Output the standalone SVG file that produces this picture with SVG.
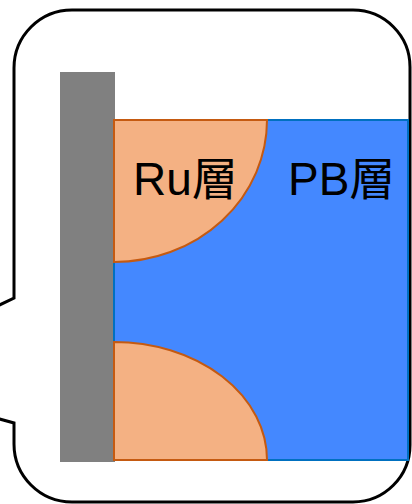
<svg xmlns="http://www.w3.org/2000/svg" width="412" height="504" viewBox="0 0 412 504">
<style>
.callout{fill:#fff;stroke:#000;stroke-width:3}
.ru{fill:#F4B183;stroke:#C55A11;stroke-width:2}
.lbl{font-family:"Liberation Sans","Noto Sans CJK JP",sans-serif;font-size:46px;fill:#000}
</style>
<g id="callout">
<path class="callout" d="M 72 10 H 353 A 57 57 0 0 1 410 67 V 445 A 57 57 0 0 1 353 502 H 72 A 58 58 0 0 1 14 444 V 423 L -150 377 L 14 298 V 68 A 58 58 0 0 1 72 10 Z"/>
</g>
<g id="wall">
<rect x="60" y="72" width="55" height="390" fill="#808080"/>
</g>
<g id="pb-layer">
<rect x="114" y="120" width="294" height="340" fill="#4488FF" stroke="#0070C0" stroke-width="2"/>
<text class="lbl" x="288" y="195">PB層</text>
</g>
<g id="ru-layer-top">
<path class="ru" d="M 114 120 H 267 A 153 142 0 0 1 114 262 Z"/>
<text class="lbl" x="133" y="195">Ru層</text>
</g>
<g id="ru-layer-bottom">
<path class="ru" d="M 114 460 V 342 A 153 118 0 0 1 267 460 Z"/>
</g>
<g id="connectors"></g>
</svg>
